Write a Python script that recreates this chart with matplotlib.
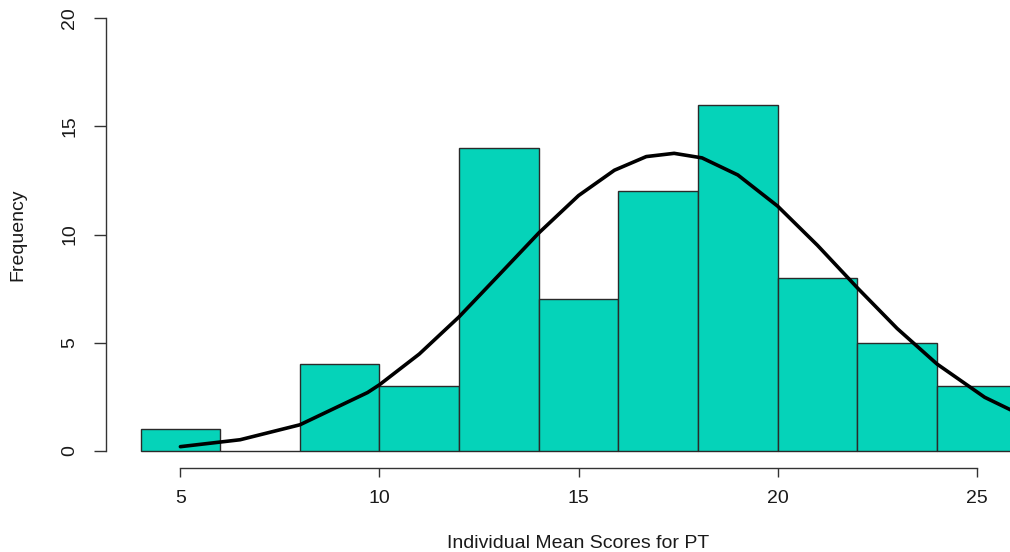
import matplotlib
matplotlib.use("Agg")
from matplotlib import pyplot as plt

# histogram bins (width 2) and counts per bin
bin_edges = [4, 6, 8, 10, 12, 14, 16, 18, 20, 22, 24]
counts = [1, 0, 4, 3, 14, 7, 12, 16, 8, 5, 3]
bin_width = 2

# fitted normal curve, scaled to frequency
curve_x = [5.0, 6.5, 8.0, 9.7, 10.0, 11.0, 12.0, 13.0, 14.0, 15.0, 15.9, 16.7,
           17.4, 18.1, 19.0, 20.0, 21.0, 22.0, 23.0, 24.0, 25.2, 26.4]
curve_y = [0.2, 0.52, 1.21, 2.7, 3.06, 4.48, 6.2, 8.13, 10.07, 11.8, 12.97, 13.6,
           13.75, 13.54, 12.75, 11.31, 9.5, 7.54, 5.66, 4.02, 2.48, 1.41]

x_ticks = [5, 10, 15, 20, 25]
y_ticks = [0, 5, 10, 15, 20]

plt.rcParams['font.family'] = ['Liberation Sans', 'DejaVu Sans']

fig = plt.figure(figsize=(10.1, 5.52), dpi=100)
ax = fig.add_axes([0.1045, 0.1516, 0.9367, 0.8471])

ax.bar(bin_edges, counts, width=bin_width, align='edge',
       color='#05D3B9', edgecolor='#2a2a2a', linewidth=1.0)
ax.plot(curve_x, curve_y, color='black', linewidth=2.6, solid_capstyle='round')

ax.set_xlim(3.12, 26.88)
ax.set_ylim(-0.8, 20.8)

# R style axes: only left and bottom, spanning the tick range
for side in ['top', 'right']:
    ax.spines[side].set_visible(False)
ax.spines['left'].set_bounds(0, 20)
ax.spines['bottom'].set_bounds(5, 25)
for side in ['left', 'bottom']:
    ax.spines[side].set_color('#333333')
    ax.spines[side].set_linewidth(1.0)

ax.set_xticks(x_ticks)
ax.set_yticks(y_ticks)
ax.set_yticklabels([str(v) for v in y_ticks], rotation=90, va='center')
ax.tick_params(axis='x', length=6.5, width=1.0, color='#333333', labelsize=14,
               pad=9, labelcolor='#1a1a1a')
ax.tick_params(axis='y', length=8.6, width=1.0, color='#333333', labelsize=14,
               pad=11, labelcolor='#1a1a1a')

fig.text(578 / 1010, 1 - 543 / 552, 'Individual Mean Scores for PT',
         ha='center', va='center', fontsize=14, color='#1a1a1a')
fig.text(18 / 1010, 1 - 235 / 552, 'Frequency', rotation=90,
         ha='center', va='center', fontsize=14, color='#1a1a1a')

fig.savefig('out.png', dpi=100)
